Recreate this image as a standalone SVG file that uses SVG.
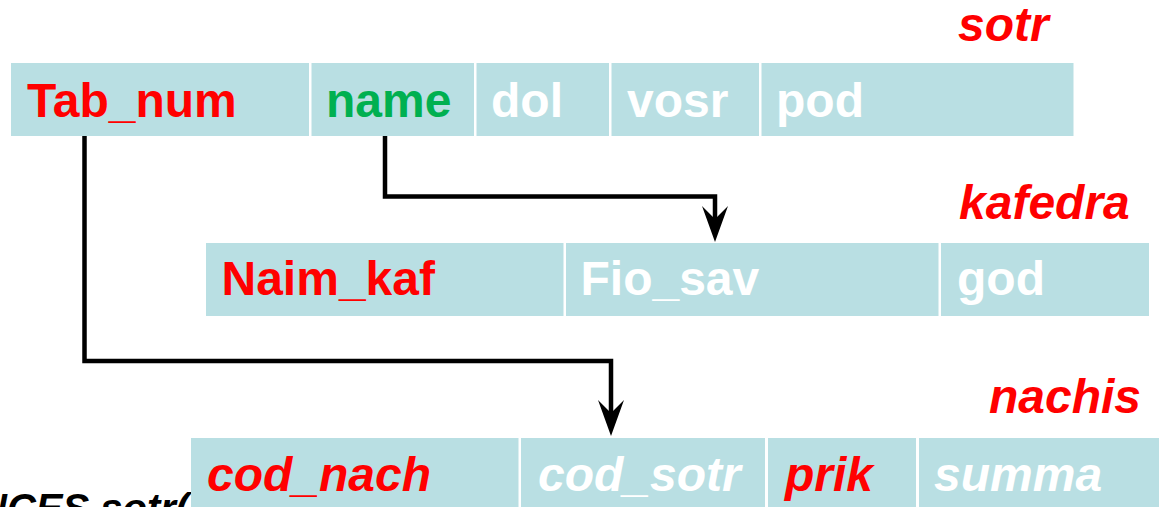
<svg xmlns="http://www.w3.org/2000/svg" width="1159" height="507" viewBox="0 0 1159 507">
  <style>
    .cell { fill: #B9DFE3; }
    .f { font-family: "Liberation Sans", Arial, sans-serif; font-weight: bold; font-size: 48px; }
    .it { font-style: italic; }
    .red { fill: #FF0000; }
    .green { fill: #00B050; }
    .white { fill: #FFFFFF; }
    .title { font-family: "Liberation Sans", Arial, sans-serif; font-weight: bold; font-style: italic; font-size: 48px; fill: #FF0000; }
    .link { fill: none; stroke: #000000; stroke-width: 4.5; stroke-linejoin: miter; marker-end: url(#head); }
  </style>
  <defs>
    <marker id="head" markerUnits="userSpaceOnUse" viewBox="0 0 36 26" refX="13" refY="13" markerWidth="36" markerHeight="26" orient="auto">
      <path d="M0,0 L36,13 L0,26 L13,13 Z" fill="#000000"/>
    </marker>
  </defs>
  <rect width="1159" height="507" fill="#FFFFFF"/>

  <!-- trailing SQL fragment, partly hidden behind the nachis table -->
  <text x="-22" y="522" font-family="Liberation Sans, Arial, sans-serif" font-weight="bold" font-style="italic" font-size="40" fill="#000000">NCES sotr(</text>

  <!-- table sotr -->
  <g id="sotr">
    <text class="title" x="958" y="41">sotr</text>
    <rect class="cell" x="11" y="63" width="298" height="73"/>
    <rect class="cell" x="311.5" y="63" width="162.5" height="73"/>
    <rect class="cell" x="476.5" y="63" width="132.5" height="73"/>
    <rect class="cell" x="611.5" y="63" width="147.5" height="73"/>
    <rect class="cell" x="761.5" y="63" width="312" height="73"/>
    <text class="f red" x="27" y="117">Tab_num</text>
    <text class="f green" x="326" y="117">name</text>
    <text class="f white" x="491" y="117">dol</text>
    <text class="f white" x="627" y="117">vosr</text>
    <text class="f white" x="776" y="117">pod</text>
  </g>

  <!-- table kafedra -->
  <g id="kafedra">
    <text class="title" x="959" y="219">kafedra</text>
    <rect class="cell" x="206" y="243" width="357.5" height="73"/>
    <rect class="cell" x="566" y="243" width="372.5" height="73"/>
    <rect class="cell" x="941" y="243" width="208" height="73"/>
    <text class="f red" x="221.5" y="295">Naim_kaf</text>
    <text class="f white" x="580.5" y="295">Fio_sav</text>
    <text class="f white" x="957" y="295">god</text>
  </g>

  <!-- table nachis -->
  <g id="nachis">
    <text class="title" x="989" y="413">nachis</text>
    <rect class="cell" x="191" y="438" width="327.5" height="80"/>
    <rect class="cell" x="521" y="438" width="244" height="80"/>
    <rect class="cell" x="768" y="438" width="148" height="80"/>
    <rect class="cell" x="919" y="438" width="250" height="80"/>
    <text class="f it red" x="207" y="491">cod_nach</text>
    <text class="f it white" x="538" y="491">cod_sotr</text>
    <text class="f it red" x="785" y="491">prik</text>
    <text class="f it white" x="934" y="491">summa</text>
  </g>

  <!-- foreign key links -->
  <g id="connectors">
    <path class="link" d="M84.5,136 V361 H611 V413"/>
    <path class="link" d="M385,136 V196.5 H715 V219"/>
  </g>
</svg>
